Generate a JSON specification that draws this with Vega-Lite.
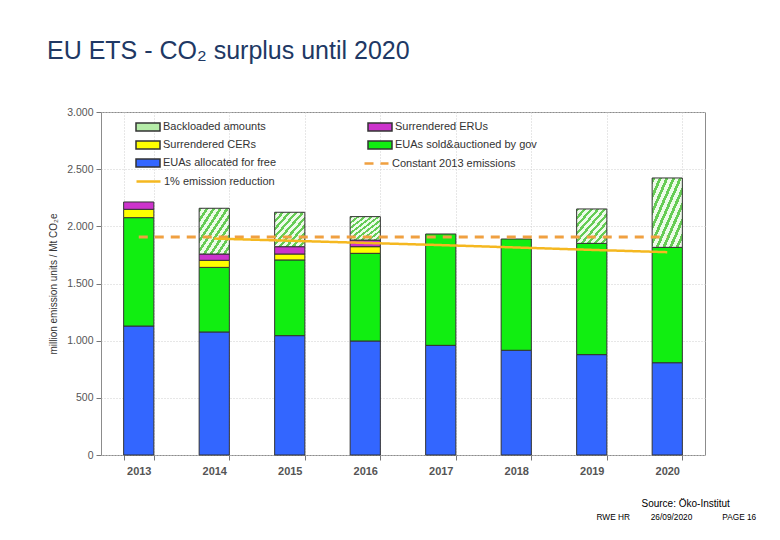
{
  "$schema": "https://vega.github.io/schema/vega-lite/v6.json",
  "width": 604,
  "height": 343,
  "autosize": {"type": "none"},
  "padding": {"left": 101, "top": 112, "right": 75, "bottom": 85},
  "background": "white",
  "config": {"view": {"stroke": "#8c8c8c", "strokeWidth": 1}, "font": "Liberation Sans"},
  "title": {"text": "EU ETS - CO₂ surplus until 2020", "anchor": "start", "frame": "group", "dx": -54, "offset": 23, "baseline": "alphabetic", "fontSize": 25, "fontWeight": "normal", "color": "#203864", "font": "Liberation Sans"},
  "resolve": {"axis": {"x": "independent"}, "scale": {"strokeDash": "independent"}, "legend": {"strokeDash": "independent"}},
  "datasets": {
    "bars": [
      {"year": "2013", "series": "EUAs allocated for free", "value": 1128, "stack": 1},
      {"year": "2013", "series": "EUAs sold&auctioned by gov", "value": 948, "stack": 2},
      {"year": "2013", "series": "Surrendered CERs", "value": 73, "stack": 3},
      {"year": "2013", "series": "Surrendered ERUs", "value": 64, "stack": 4},
      {"year": "2014", "series": "EUAs allocated for free", "value": 1076, "stack": 1},
      {"year": "2014", "series": "EUAs sold&auctioned by gov", "value": 565, "stack": 2},
      {"year": "2014", "series": "Surrendered CERs", "value": 62, "stack": 3},
      {"year": "2014", "series": "Surrendered ERUs", "value": 55, "stack": 4},
      {"year": "2014", "series": "Backloaded amounts", "value": 400, "stack": 5},
      {"year": "2015", "series": "EUAs allocated for free", "value": 1044, "stack": 1},
      {"year": "2015", "series": "EUAs sold&auctioned by gov", "value": 662, "stack": 2},
      {"year": "2015", "series": "Surrendered CERs", "value": 52, "stack": 3},
      {"year": "2015", "series": "Surrendered ERUs", "value": 64, "stack": 4},
      {"year": "2015", "series": "Backloaded amounts", "value": 301, "stack": 5},
      {"year": "2016", "series": "EUAs allocated for free", "value": 997, "stack": 1},
      {"year": "2016", "series": "EUAs sold&auctioned by gov", "value": 767, "stack": 2},
      {"year": "2016", "series": "Surrendered CERs", "value": 58, "stack": 3},
      {"year": "2016", "series": "Surrendered ERUs", "value": 58, "stack": 4},
      {"year": "2016", "series": "Backloaded amounts", "value": 205, "stack": 5},
      {"year": "2017", "series": "EUAs allocated for free", "value": 959, "stack": 1},
      {"year": "2017", "series": "EUAs sold&auctioned by gov", "value": 974, "stack": 2},
      {"year": "2018", "series": "EUAs allocated for free", "value": 916, "stack": 1},
      {"year": "2018", "series": "EUAs sold&auctioned by gov", "value": 973, "stack": 2},
      {"year": "2019", "series": "EUAs allocated for free", "value": 878, "stack": 1},
      {"year": "2019", "series": "EUAs sold&auctioned by gov", "value": 973, "stack": 2},
      {"year": "2019", "series": "Backloaded amounts", "value": 301, "stack": 5},
      {"year": "2020", "series": "EUAs allocated for free", "value": 807, "stack": 1},
      {"year": "2020", "series": "EUAs sold&auctioned by gov", "value": 1009, "stack": 2},
      {"year": "2020", "series": "Backloaded amounts", "value": 607, "stack": 5}
    ],
    "constant": [
      {"year": "2013", "series": "Constant 2013 emissions", "value": 1907},
      {"year": "2014", "series": "Constant 2013 emissions", "value": 1907},
      {"year": "2015", "series": "Constant 2013 emissions", "value": 1907},
      {"year": "2016", "series": "Constant 2013 emissions", "value": 1907},
      {"year": "2017", "series": "Constant 2013 emissions", "value": 1907},
      {"year": "2018", "series": "Constant 2013 emissions", "value": 1907},
      {"year": "2019", "series": "Constant 2013 emissions", "value": 1907},
      {"year": "2020", "series": "Constant 2013 emissions", "value": 1907}
    ],
    "reduction": [
      {"year": "2014", "series": "1% emission reduction", "value": 1893},
      {"year": "2015", "series": "1% emission reduction", "value": 1874},
      {"year": "2016", "series": "1% emission reduction", "value": 1855},
      {"year": "2017", "series": "1% emission reduction", "value": 1836},
      {"year": "2018", "series": "1% emission reduction", "value": 1815},
      {"year": "2019", "series": "1% emission reduction", "value": 1794},
      {"year": "2020", "series": "1% emission reduction", "value": 1774}
    ]
  },
  "encoding": {
    "x": {
      "field": "year", "type": "ordinal",
      "scale": {"domain": ["2013", "2014", "2015", "2016", "2017", "2018", "2019", "2020"], "paddingInner": 0.6, "paddingOuter": 0.3},
      "axis": {
        "title": "RWE HR\u00a0\u00a0\u00a0\u00a0\u00a0\u00a0\u00a0\u00a0\u00a026/09/2020\u00a0\u00a0\u00a0\u00a0\u00a0\u00a0\u00a0\u00a0\u00a0\u00a0\u00a0\u00a0\u00a0PAGE 16",
        "titleAlign": "left", "titleX": 495, "titleY": 57, "titleBaseline": "top",
        "titleFontSize": 8.3, "titleFontWeight": "normal", "titleColor": "#000",
        "labelAngle": 0, "labelFontSize": 11, "labelFontWeight": "bold", "labelColor": "#555", "labelPadding": 5,
        "tickBand": "extent", "tickSize": 5, "tickColor": "#777",
        "grid": true, "gridColor": "#cfcfcf", "gridDash": [1, 2], "domain": false
      }
    },
    "y": {
      "field": "value", "type": "quantitative",
      "scale": {"domain": [0, 3000]},
      "axis": {
        "title": "million emission units / Mt CO₂e", "titleFontSize": 10, "titleFontWeight": "normal", "titleColor": "#333", "titlePadding": 8,
        "values": [0, 500, 1000, 1500, 2000, 2500, 3000],
        "labelExpr": "replace(format(datum.value, ','), ',', '.')",
        "labelFontSize": 10.5, "labelColor": "#555", "labelPadding": 3,
        "tickSize": 5, "tickColor": "#777",
        "gridColor": "#cfcfcf", "gridDash": [1, 2], "domain": false
      }
    }
  },
  "layer": [
    {
      "data": {"name": "bars"},
      "mark": {"type": "bar", "stroke": "#333", "strokeWidth": 1},
      "encoding": {
        "order": {"field": "stack", "type": "quantitative"},
        "color": {
          "field": "series", "type": "nominal",
          "scale": {
            "domain": ["Backloaded amounts", "Surrendered ERUs", "Surrendered CERs", "EUAs sold&auctioned by gov", "EUAs allocated for free"],
            "range": ["#b5eca8", "#cc33cc", "#ffff00", "#11ee11", "#3366ff"]
          },
          "condition": {
            "test": "datum.series === 'Backloaded amounts'",
            "value": {"gradient": "linear", "x1": 0, "y1": 0, "x2": 1, "y2": 1, "stops": [
              {"offset": 0, "color": "#66cc55"}, {"offset": 0.05, "color": "#66cc55"}, {"offset": 0.05, "color": "#eefbea"}, {"offset": 0.111, "color": "#eefbea"},
              {"offset": 0.111, "color": "#66cc55"}, {"offset": 0.161, "color": "#66cc55"}, {"offset": 0.161, "color": "#eefbea"}, {"offset": 0.222, "color": "#eefbea"},
              {"offset": 0.222, "color": "#66cc55"}, {"offset": 0.272, "color": "#66cc55"}, {"offset": 0.272, "color": "#eefbea"}, {"offset": 0.333, "color": "#eefbea"},
              {"offset": 0.333, "color": "#66cc55"}, {"offset": 0.383, "color": "#66cc55"}, {"offset": 0.383, "color": "#eefbea"}, {"offset": 0.444, "color": "#eefbea"},
              {"offset": 0.444, "color": "#66cc55"}, {"offset": 0.494, "color": "#66cc55"}, {"offset": 0.494, "color": "#eefbea"}, {"offset": 0.556, "color": "#eefbea"},
              {"offset": 0.556, "color": "#66cc55"}, {"offset": 0.606, "color": "#66cc55"}, {"offset": 0.606, "color": "#eefbea"}, {"offset": 0.667, "color": "#eefbea"},
              {"offset": 0.667, "color": "#66cc55"}, {"offset": 0.717, "color": "#66cc55"}, {"offset": 0.717, "color": "#eefbea"}, {"offset": 0.778, "color": "#eefbea"},
              {"offset": 0.778, "color": "#66cc55"}, {"offset": 0.828, "color": "#66cc55"}, {"offset": 0.828, "color": "#eefbea"}, {"offset": 0.889, "color": "#eefbea"},
              {"offset": 0.889, "color": "#66cc55"}, {"offset": 0.939, "color": "#66cc55"}, {"offset": 0.939, "color": "#eefbea"}, {"offset": 1, "color": "#eefbea"}
            ]}
          },
          "legend": {
            "orient": "none", "legendX": 38, "legendY": 6, "columns": 2, "direction": "horizontal", "columnPadding": 88, "rowPadding": 2,
            "title": null, "symbolSize": 256, "symbolType": "M-1.5,-0.5H1.5V0.5H-1.5Z",
            "labelFontSize": 11, "labelColor": "#333", "labelOffset": 6, "padding": 0, "labelFont": "Liberation Sans"
          }
        }
      }
    },
    {
      "data": {"name": "constant"},
      "mark": {"type": "line", "strokeWidth": 3, "color": "#f0a040"},
      "encoding": {
        "x": {
          "field": "year", "type": "ordinal",
          "axis": {"orient": "top", "labels": false, "ticks": false, "grid": false, "domain": false,
            "title": "Source: Öko-Institut", "titleAlign": "left", "titleX": 540, "titleY": 386, "titleBaseline": "top",
            "titleFontSize": 10, "titleFontWeight": "normal", "titleColor": "#000"}
        },
        "strokeDash": {
          "field": "series", "type": "nominal",
          "scale": {"domain": ["Constant 2013 emissions"], "range": [[9, 7]]},
          "legend": {
            "orient": "none", "legendX": 266, "legendY": 42, "title": null, "symbolSize": 256, "symbolType": "M-1.5,0H1.5",
            "symbolStrokeWidth": 2.5, "symbolStrokeColor": "#f0a040", "labelFontSize": 11, "labelColor": "#333", "labelOffset": 6, "padding": 0, "labelFont": "Liberation Sans"
          }
        }
      }
    },
    {
      "data": {"name": "reduction"},
      "mark": {"type": "line", "strokeWidth": 2.5, "color": "#f5b820"},
      "encoding": {
        "x": {"field": "year", "type": "ordinal", "axis": null},
        "strokeDash": {
          "field": "series", "type": "nominal",
          "scale": {"domain": ["1% emission reduction"], "range": [[1, 0]]},
          "legend": {
            "orient": "none", "legendX": 38, "legendY": 60, "title": null, "symbolSize": 256, "symbolType": "M-1.5,0H1.5",
            "symbolStrokeWidth": 2.5, "symbolStrokeColor": "#f5b820", "labelFontSize": 11, "labelColor": "#333", "labelOffset": 6, "padding": 0, "labelFont": "Liberation Sans"
          }
        }
      }
    }
  ]
}
